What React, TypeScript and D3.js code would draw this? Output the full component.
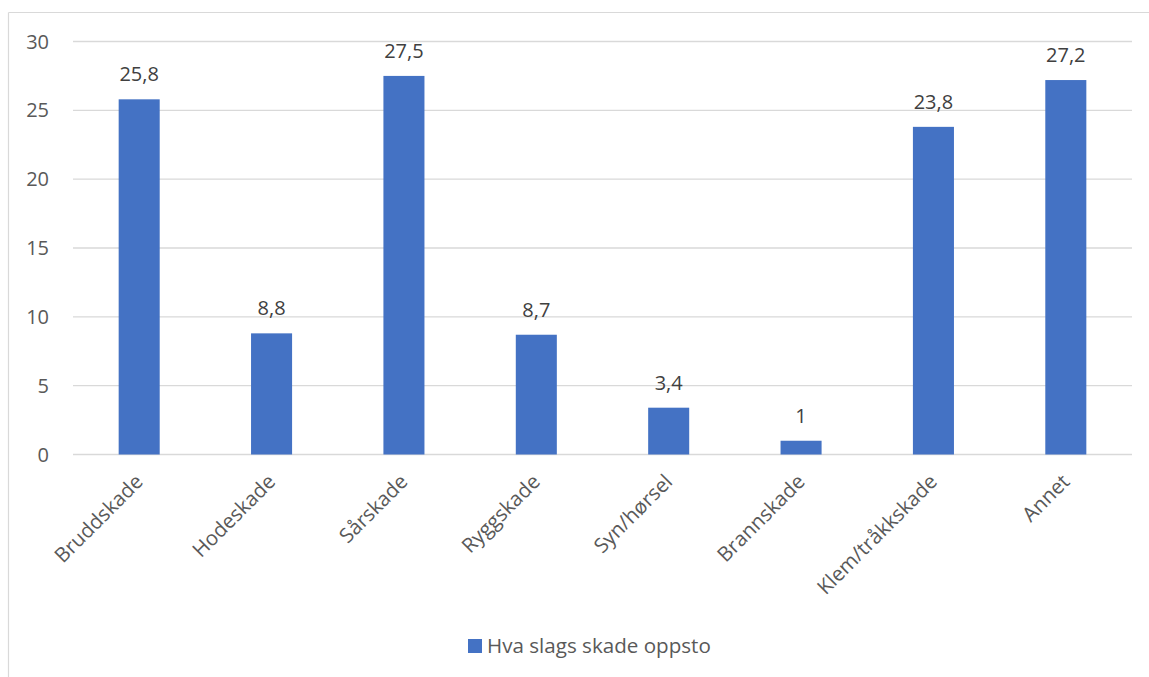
import React from "react";
import * as d3 from "d3";

const categories = ["Bruddskade", "Hodeskade", "Sårskade", "Ryggskade", "Syn/hørsel", "Brannskade", "Klem/tråkkskade", "Annet"];
const values = [25.8, 8.8, 27.5, 8.7, 3.4, 1, 23.8, 27.2];
const yTicks = [0, 5, 10, 15, 20, 25, 30];
const seriesName = "Hva slags skade oppsto";

const W = 1149;
const H = 677;
const FONT = "'Open Sans', sans-serif";

export default function App() {
  const x = d3.scaleBand<string>().domain(categories).range([73, 1132]).paddingInner(0.69).paddingOuter(0.345);
  const y = d3.scaleLinear().domain([0, 30]).range([454.5, 41.5]);
  const fmt = (v: number) => String(v).replace(".", ",");
  return (
    <svg width={W} height={H} style={{ position: "absolute", left: 0, top: 0, background: "#fff" }}>
      <rect x={0} y={0} width={W} height={H} fill="#fff" />
      <line x1={8.5} y1={12.5} x2={W} y2={12.5} stroke="#d9d9d9" strokeWidth={1.2} />
      <line x1={8.5} y1={12.5} x2={8.5} y2={H} stroke="#d9d9d9" strokeWidth={1.2} />
      {yTicks.map((t) => (
        <g key={t}>
          <line x1={73} x2={1132} y1={y(t)} y2={y(t)} stroke="#d9d9d9" strokeWidth={1.3} />
          <text x={49} y={y(t)} dy="0.35em" textAnchor="end" fontFamily={FONT} fontSize={20} fill="#595959">
            {t}
          </text>
        </g>
      ))}
      {categories.map((c, i) => {
        const bx = x(c)!;
        const bw = x.bandwidth();
        const cx = bx + bw / 2;
        return (
          <g key={c}>
            <rect x={bx} y={y(values[i])} width={bw} height={y(0) - y(values[i])} fill="#4472c4" />
            <text x={cx} y={y(values[i]) - 18} textAnchor="middle" fontFamily={FONT} fontSize={20} fill="#404040">
              {fmt(values[i])}
            </text>
            <text
              transform={`translate(${cx + 5},${483}) rotate(-45)`}
              textAnchor="end"
              fontFamily={FONT}
              fontSize={20.4}
              fill="#595959"
            >
              {c}
            </text>
          </g>
        );
      })}
      <rect x={468} y={639} width={14} height={14} fill="#4472c4" />
      <text x={487} y={653} fontFamily={FONT} fontSize={20.6} fill="#595959">
        {seriesName}
      </text>
    </svg>
  );
}
